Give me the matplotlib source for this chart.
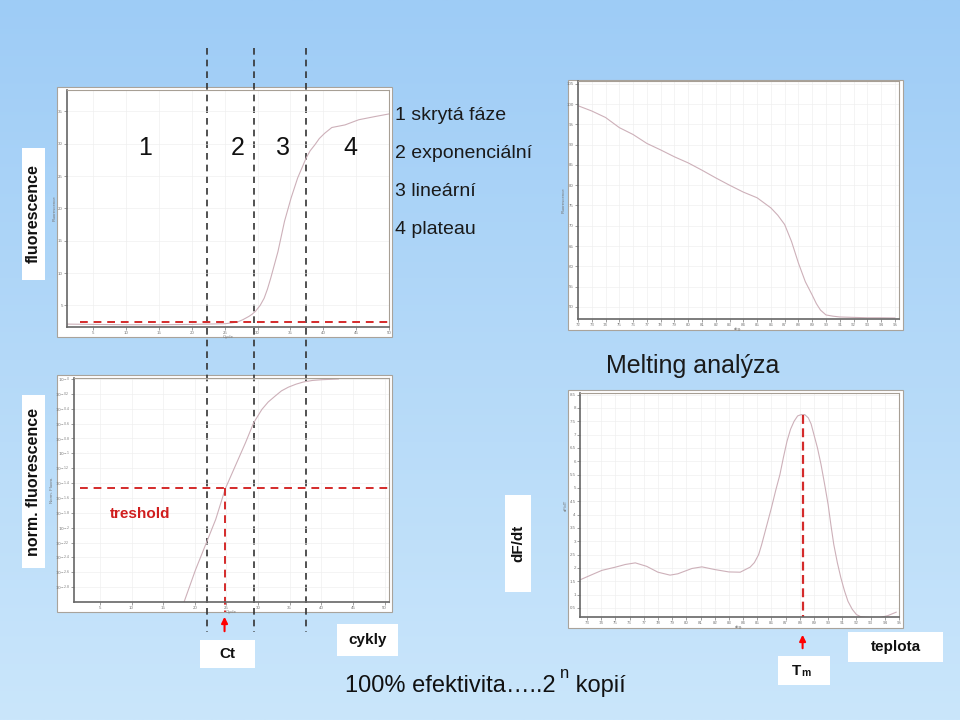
import numpy as np
import matplotlib.pyplot as plt
import matplotlib.transforms as mtransforms
from matplotlib.patches import Rectangle

plt.rcParams['font.family'] = ['Liberation Sans', 'DejaVu Sans']

# amplification curve, raw fluorescence
cycles_raw = [1, 5, 10, 15, 20, 22.3, 25, 26.9, 27.8, 28.7, 29.2, 29.7, 30.4, 31.0, 31.5,
              32.0, 33.1, 34.1, 35.1, 36.1, 37.4, 38.0, 38.7, 39.4, 40.2, 41.3, 43.3,
              45.4, 47.9, 50]
fluor_raw = [2.1, 2.05, 2.0, 2.0, 2.05, 2.1, 2.15, 2.4, 2.8, 3.3, 3.65, 4.1, 5.0, 6.1, 7.5,
             9.2, 13.3, 18.0, 21.6, 24.7, 27.8, 28.9, 29.8, 30.8, 31.6, 32.5, 32.9,
             33.7, 34.2, 34.6]
raw_threshold = 2.45
phase_bounds = [22.3, 29.4, 37.4]
phase_names = ['1 skrytá fáze', '2 exponenciální', '3 lineární', '4 plateau']

# melting curve
melt_temp = [72, 73, 74, 75, 76, 77, 78, 79, 80, 81, 82, 83, 84, 85, 86, 86.5, 87, 87.5,
             88, 88.5, 89, 89.3, 89.6, 90, 90.5, 91, 92, 93, 94, 95]
melt_fluor = [99.6, 98.3, 96.7, 94.2, 92.5, 90.3, 88.7, 87.0, 85.5, 83.7, 81.8, 80.0,
              78.3, 76.9, 74.4, 72.6, 70.3, 66.1, 60.8, 56.2, 52.9, 50.8, 49.2, 48.0,
              47.7, 47.5, 47.4, 47.3, 47.3, 47.25]

# normalised amplification, log scale (log10 values)
cycles_norm = [18.3, 20.1, 21.7, 23.3, 24.8, 26.4, 28.0, 29.3, 30.6, 31.6, 32.7, 33.7,
               34.8, 36.0, 37.2, 38.6, 40.1, 42.7]
norm_log10 = [-3.0, -2.57, -2.23, -1.89, -1.48, -1.17, -0.86, -0.59, -0.41, -0.31, -0.23,
              -0.16, -0.11, -0.07, -0.04, -0.02, -0.01, 0.0]
threshold_log10 = -1.46
ct_cycle = 24.7

# derivative of melting curve
deriv_temp = [72.53, 73.35, 74.05, 75.0, 75.7, 76.4, 77.2, 78.0, 78.85, 79.4, 80.4, 81.1,
              82.0, 83.0, 83.8, 84.5, 84.8, 85.1, 85.3, 85.5, 85.75, 86.0, 86.3, 86.6,
              86.85, 87.1, 87.35, 87.6, 87.85, 88.1, 88.35, 88.6, 88.8, 89.0, 89.25,
              89.5, 89.75, 90.0, 90.2, 90.4, 90.65, 90.9, 91.15, 91.4, 91.7, 92.0,
              92.3, 92.6, 93.5, 94.2, 94.8]
deriv_vals = [1.56, 1.75, 1.91, 2.03, 2.13, 2.19, 2.06, 1.84, 1.73, 1.78, 1.98, 2.04,
              1.94, 1.85, 1.84, 2.03, 2.2, 2.5, 2.85, 3.25, 3.75, 4.25, 4.9, 5.5,
              6.15, 6.75, 7.2, 7.5, 7.7, 7.75, 7.75, 7.63, 7.4, 7.0, 6.5,
              5.88, 5.15, 4.38, 3.6, 2.88, 2.2, 1.63, 1.15, 0.75, 0.45, 0.25,
              0.17, 0.15, 0.12, 0.21, 0.34]
tm_temp = 88.2
tm_peak = 7.75

W, H = 960, 720
fig = plt.figure(figsize=(9.6, 7.2), dpi=100)

# background in pixel coordinates
bg = fig.add_axes([0, 0, 1, 1], zorder=-10)
grad = np.linspace(0, 1, 256)[:, None]
top_c = np.array([158, 204, 246]) / 255
bot_c = np.array([202, 230, 251]) / 255
img = top_c[None, None, :] * (1 - grad[..., None]) + bot_c[None, None, :] * grad[..., None]
img = np.repeat(img, 2, axis=1)
bg.imshow(img, extent=[0, W, H, 0], aspect='auto')
bg.set_xlim(0, W)
bg.set_ylim(H, 0)
bg.axis('off')


def px_axes(l, t, r, b):
    return fig.add_axes([l / W, 1 - b / H, (r - l) / W, (b - t) / H])


def white_box(l, t, r, b, edge='#a9a39b'):
    bg.add_patch(Rectangle((l, t), r - l, b - t, facecolor='white', edgecolor=edge, lw=0.8))


def style(ax):
    ax.set_facecolor('none')
    ax.grid(True, color='#ededed', lw=0.4)
    ax.tick_params(labelsize=3.2, length=2, width=0.5, colors='#777', pad=1)
    for s in ['left', 'bottom']:
        ax.spines[s].set_color('#666')
        ax.spines[s].set_linewidth(1.2)
    for s in ['top', 'right']:
        ax.spines[s].set_color('#a79f95')
        ax.spines[s].set_linewidth(0.8)


curve_c = '#cdb0b9'
red = '#d42a2a'

# panels
white_box(57, 87, 392, 337)
white_box(568, 80, 903, 330)
white_box(57, 375, 392, 612)
white_box(568, 390, 903, 628)

ax1 = px_axes(67, 90, 389, 327)
ax2 = px_axes(578, 81, 899, 319)
ax3 = px_axes(74, 378, 389, 602)
ax4 = px_axes(580, 393, 899, 617)
for ax in (ax1, ax2, ax3, ax4):
    style(ax)

# top left: raw amplification
ax1.plot(cycles_raw, fluor_raw, color=curve_c, lw=0.8)
ax1.set_xlim(1, 50)
ax1.set_ylim(1.65, 38.3)
ax1.set_xticks(range(5, 51, 5))
ax1.set_yticks(range(5, 36, 5))
ax1.set_xlabel('Cycle', fontsize=3.2, labelpad=0, color='#777')
ax1.set_ylabel('Fluorescence', fontsize=3.2, labelpad=1, color='#777')
ax1.plot([3.0, 50.5], [raw_threshold, raw_threshold], color=red, lw=1.4,
         ls=(0, (4, 3)), clip_on=False)

# top right: melting curve
ax2.plot(melt_temp, melt_fluor, color=curve_c, lw=0.8)
ax2.set_xlim(72, 95.3)
ax2.set_ylim(47, 105.7)
ax2.set_xticks(range(72, 96))
ax2.set_yticks(range(50, 106, 5))
ax2.set_xlabel('deg.', fontsize=3.2, labelpad=0, color='#777')
ax2.set_ylabel('Fluorescence', fontsize=3.2, labelpad=1, color='#777')

# bottom left: normalised log
norm_vals = [10 ** v for v in norm_log10]
ax3.plot(cycles_norm, norm_vals, color=curve_c, lw=0.8)
ax3.set_yscale('log')
ax3.set_xlim(0.9, 50.7)
ax3.set_ylim(10 ** -3.0, 10 ** 0.013)
ax3.set_xticks(range(5, 51, 5))
exps = [round(-0.2 * i, 1) for i in range(15)]
ax3.set_yticks([10 ** e for e in exps])
ax3.set_yticklabels(['$10^{%g}$' % e for e in exps])
ax3.yaxis.set_minor_locator(plt.NullLocator())
ax3.set_xlabel('Cycle', fontsize=3.2, labelpad=0, color='#777')
ax3.set_ylabel('Norm. Fluoro.', fontsize=3.2, labelpad=1, color='#777')
thr = 10 ** threshold_log10
ax3.plot([1.9, 50.5], [thr, thr], color=red, lw=1.4, ls=(0, (4, 3)), clip_on=False)
ax3.plot([ct_cycle, ct_cycle], [thr, 10 ** -3.13], color=red, lw=1.4,
         ls=(0, (4, 3)), clip_on=False)

# bottom right: derivative
ax4.plot(deriv_temp, deriv_vals, color=curve_c, lw=0.8)
ax4.set_xlim(72.5, 95)
ax4.set_ylim(0.16, 8.56)
ax4.set_xticks(range(73, 96))
ax4.set_yticks(np.arange(0.5, 8.6, 0.5))
ax4.set_yticklabels(['%g' % v for v in np.arange(0.5, 8.6, 0.5)])
ax4.set_xlabel('deg.', fontsize=3.2, labelpad=0, color='#777')
ax4.set_ylabel('dF/dT', fontsize=3.2, labelpad=1, color='#777')
ax4.plot([tm_temp, tm_temp], [tm_peak, 0.16], color=red, lw=1.6, ls=(0, (4, 2)),
         clip_on=False)

# phase boundaries across panels
blend1 = mtransforms.blended_transform_factory(ax1.transData, bg.transData)
for xb in phase_bounds:
    bg.plot([xb, xb], [48, 632], transform=blend1, color='#333', lw=1.2,
            ls=(0, (4, 3)), clip_on=False, zorder=5)

# arrows
blend3 = mtransforms.blended_transform_factory(ax3.transData, bg.transData)
bg.annotate('', xy=(ct_cycle, 614), xytext=(ct_cycle, 634), xycoords=blend3,
            textcoords=blend3, annotation_clip=False,
            arrowprops=dict(arrowstyle='-|>', color='red', lw=1.5, mutation_scale=9))
blend4 = mtransforms.blended_transform_factory(ax4.transData, bg.transData)
bg.annotate('', xy=(tm_temp, 632), xytext=(tm_temp, 651), xycoords=blend4,
            textcoords=blend4, annotation_clip=False,
            arrowprops=dict(arrowstyle='-|>', color='red', lw=1.5, mutation_scale=9))

# texts (figure level so they sit above the panel grids)
for label, x in zip(['1', '2', '3', '4'], [145, 238, 283, 350]):
    fig.text(x, 148, label, fontsize=18, ha='center', va='center', color='#111',
             transform=bg.transData)
for i, name in enumerate(phase_names):
    fig.text(395, 115 + i * 38, name, fontsize=14, ha='left', va='center',
             color='#1a1a1a', transform=bg.transData)

fig.text(693, 366, 'Melting analýza', fontsize=18, ha='center', va='center',
         color='#1a1a1a', transform=bg.transData)
fig.text(110, 514, 'treshold', fontsize=11, fontweight='bold', color='#d01e1e',
         ha='left', va='center', transform=bg.transData)


def label_box(l, t, r, b, text, rot=0, size=11):
    bg.add_patch(Rectangle((l, t), r - l, b - t, facecolor='white', edgecolor='none', zorder=6))
    bg.text((l + r) / 2, (t + b) / 2, text, fontsize=size, fontweight='bold', rotation=rot,
            ha='center', va='center', color='#111', zorder=7)


label_box(22, 148, 45, 280, 'fluorescence', rot=90, size=11.5)
label_box(22, 395, 45, 568, 'norm. fluorescence', rot=90, size=11.5)
label_box(505, 495, 531, 592, 'dF/dt', rot=90, size=11)
label_box(200, 640, 255, 668, 'Ct')
label_box(337, 624, 398, 656, 'cykly')
label_box(848, 632, 943, 662, 'teplota')

bg.add_patch(Rectangle((778, 656), 52, 29, facecolor='white', edgecolor='none', zorder=6))
t_T = bg.text(801, 671, 'T', fontsize=11, fontweight='bold', ha='right', va='center',
              color='#111', zorder=7)
bg.annotate('m', xy=(1.0, 0.0), xycoords=t_T, fontsize=7.5, fontweight='bold',
            ha='left', va='bottom', color='#111', zorder=7)

narrow = ['Liberation Sans Narrow', 'Liberation Sans']
t_main = bg.text(345, 686, '100% efektivita…..2', fontsize=17, ha='left', va='center',
                 color='#111', family=narrow)
t_n = bg.annotate('n', xy=(1.0, 0.75), xycoords=t_main, xytext=(3, 0),
                  textcoords='offset points', fontsize=12, ha='left', va='bottom',
                  color='#111', family=narrow)
bg.annotate(' kopií', xy=(1.0, 0.0), xycoords=(t_n, t_main), fontsize=17,
            ha='left', va='bottom', color='#111', family=narrow)

fig.savefig('out.png', dpi=100)
